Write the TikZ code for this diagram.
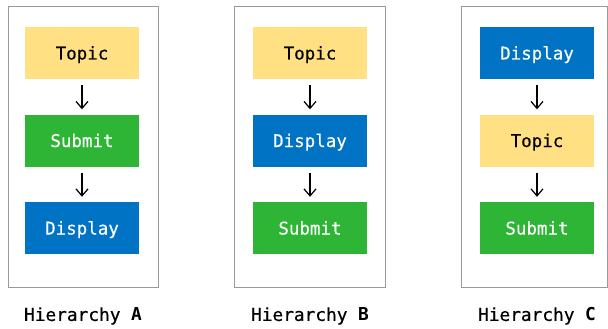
\documentclass[tikz,border=0pt]{standalone}
\usepackage{fontspec}
\setmonofont{DejaVu Sans Mono}
\newfontfamily\boxfont[FakeBold=0.3]{DejaVu Sans Mono}
\newfontfamily\capfont[FakeBold=0.6]{DejaVu Sans Mono}
\usetikzlibrary{arrows.meta}
\definecolor{ytopic}{HTML}{FFE083}
\definecolor{gsubmit}{HTML}{2EB536}
\definecolor{bdisplay}{HTML}{0073C5}
\definecolor{framegray}{HTML}{9A9A9A}
\tikzset{
  panel/.style={draw=framegray, line width=1pt, fill=white},
  blk/.style={minimum width=114pt, minimum height=52pt, inner sep=0pt, text height=13pt, text depth=0pt, font=\boxfont\fontsize{17.5}{19}\selectfont},
  topicbox/.style={blk, fill=ytopic, text=black},
  submitbox/.style={blk, fill=gsubmit, text=white},
  displaybox/.style={blk, fill=bdisplay, text=white},
  flow/.style={-{Straight Barb[length=7pt,width=12pt,line width=1.2pt]}, line width=1.2pt, black, shorten <=6pt, shorten >=5pt},
  caption/.style={font=\capfont\fontsize{17.8}{19}\selectfont, text=black}
}
\begin{document}
\begin{tikzpicture}[x=1pt,y=1pt]
\useasboundingbox (0,0) rectangle (608,-329);
% frames
\draw[panel] (8,-7) rectangle (158,-287);
\draw[panel] (234.5,-7) rectangle (385.5,-287);
\draw[panel] (461,-7) rectangle (607,-287);
% panel A
\node[topicbox]   (a1) at (82,-53)  {Topic};
\node[submitbox]  (a2) at (82,-140.5) {Submit};
\node[displaybox] (a3) at (82,-228) {Display};
\draw[flow] (a1) -- (a2);
\draw[flow] (a2) -- (a3);
% panel B
\node[topicbox]   (b1) at (310,-53)  {Topic};
\node[displaybox] (b2) at (310,-140.5) {Display};
\node[submitbox]  (b3) at (310,-228) {Submit};
\draw[flow] (b1) -- (b2);
\draw[flow] (b2) -- (b3);
% panel C
\node[displaybox] (c1) at (537,-53)  {Display};
\node[topicbox]   (c2) at (537,-140.5) {Topic};
\node[submitbox]  (c3) at (537,-228) {Submit};
\draw[flow] (c1) -- (c2);
\draw[flow] (c2) -- (c3);
% captions
\node[caption] (la) at (83,-316) {Hierarchy {\bfseries\ttfamily A}};
\node[caption] (lb) at (310,-316) {Hierarchy {\bfseries\ttfamily B}};
\node[caption] (lc) at (537,-316) {Hierarchy {\bfseries\ttfamily C}};
\end{tikzpicture}
\end{document}
